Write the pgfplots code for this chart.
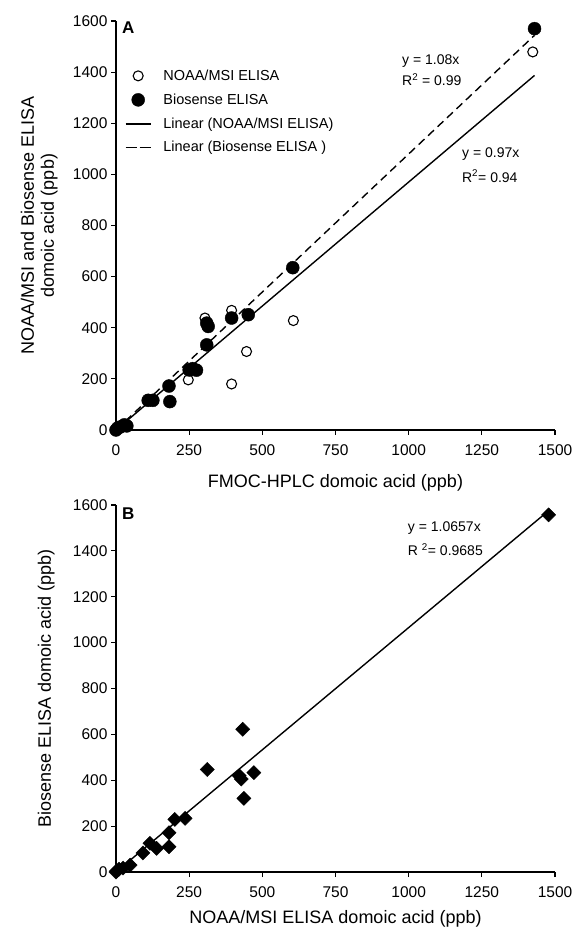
\documentclass[border=0pt]{standalone}
\usepackage{pgfplots}
\pgfplotsset{compat=1.18}
\usepackage{fontspec}
\setmainfont{Liberation Sans}
\pgfplotstableread{
x y
6 8
37 16
110 116
126 116
181 172
262 240
310 418
247 196
304 438
395 468
395 180
446 307
606 428
1424 1479
}\noaa
\pgfplotstableread{
x y
0 0
6 8
15 12
37 16
28 20
110 116
126 116
181 172
184 111
250 235
262 240
275 234
310 333
310 418
315 405
395 438
452 451
604 635
1430 1570
}\bios
\pgfplotstableread{
x y
0 0
2 5
10 12
24 17
48 30
92 83
116 125
139 103
181 171
181 110
201 229
236 234
312 447
421 420
428 405
433 622
437 321
471 433
1478 1557
}\pairs
\pgfplotsset{
  mystyle/.style={
    scale only axis, width=439pt,
    xmin=0,xmax=1500,ymin=0,ymax=1600,
    axis lines=left, axis line style={-, line width=1.3pt},
    tick align=outside, major tick length=5pt,
    every tick/.style={line width=1.1pt, black},
    xtick={0,250,...,1500}, ytick={0,200,...,1600},
    xticklabel style={yshift=-6pt},
    /pgf/number format/assume math mode=true,
    /pgf/number format/1000 sep={},
    tick label style={font=\fontsize{15.5}{17}\selectfont},
    label style={font=\fontsize{18}{20}\selectfont},
    clip=false,
    anchor=south west,
  }
}
\begin{document}
\begin{tikzpicture}
\path[use as bounding box] (0,0) rectangle (576pt,928pt);
% Panel A
\begin{axis}[mystyle, at={(116pt,498pt)}, height=409pt,
  xlabel={FMOC-HPLC domoic acid (ppb)},
  ylabel={NOAA/MSI and Biosense ELISA\\domoic acid (ppb)},
  xlabel style={at={(axis description cs:0.5,-0.130)}, anchor=center},
  ylabel style={at={(axis description cs:-0.175,0.5)}, anchor=center, align=center},
  legend style={draw=none, fill=none, at={(axis description cs:0.02,0.881)}, anchor=north west,
    font=\fontsize{14.5}{16}\selectfont, row sep=11.5pt, inner sep=0pt, nodes={inner sep=0pt}, cells={anchor=west},
    /tikz/every odd column/.append style={column sep=12pt}},
  legend image code/.code={\draw[mark repeat=2,mark phase=2,#1] plot coordinates {(0pt,0pt) (12.5pt,0pt) (25pt,0pt)};},
]
\addplot[only marks, mark=*, mark size=5pt, mark options={fill=white, draw=black, line width=1.1pt}] table[x=x,y=y] {\noaa};
\addlegendentry{NOAA/MSI ELISA}
\addplot[only marks, mark=*, mark size=6.5pt, black] table[x=x,y=y] {\bios};
\addlegendentry{Biosense ELISA}
\addplot[black, line width=1.4pt] coordinates {(0,0) (1430,1387)};
\addlegendentry{Linear\hspace{4pt}(NOAA/MSI ELISA)}
\addplot[black, line width=1.4pt, dash pattern=on 8pt off 5pt, legend image post style={dash pattern=on 11pt off 3pt}] coordinates {(0,0) (1430,1544)};
\addlegendentry{Linear\hspace{4pt}(Biosense ELISA )}
\node[anchor=west, inner sep=0pt, font=\fontsize{17}{20}\selectfont\bfseries] at (axis cs:20,1575) {A};
\node[anchor=west, inner sep=0pt, font=\fontsize{14}{16}\selectfont] at (axis cs:977,1443) {y = 1.08x};
\node[anchor=west, inner sep=0pt, font=\fontsize{14}{16}\selectfont] at (axis cs:977,1372) {R\textsuperscript{2} = 0.99};
\node[anchor=west, inner sep=0pt, font=\fontsize{14}{16}\selectfont] at (axis cs:1182,1080) {y = 0.97x};
\node[anchor=west, inner sep=0pt, font=\fontsize{14}{16}\selectfont] at (axis cs:1182,993) {R\textsuperscript{2}= 0.94};
\end{axis}
% Panel B
\begin{axis}[mystyle, at={(116pt,56pt)}, height=367pt,
  xlabel={NOAA/MSI ELISA domoic acid (ppb)},
  ylabel={Biosense ELISA domoic acid (ppb)},
  xlabel style={at={(axis description cs:0.5,-0.128)}, anchor=center},
  ylabel style={at={(axis description cs:-0.159,0.5)}, anchor=center},
]
\addplot[black, line width=1.4pt] coordinates {(0,0) (1478,1575)};
\addplot[only marks, mark=square*, mark size=5pt, mark options={rotate=45}, black] table[x=x,y=y] {\pairs};
\node[anchor=west, inner sep=0pt, font=\fontsize{17}{20}\selectfont\bfseries] at (axis cs:20,1564) {B};
\node[anchor=west, inner sep=0pt, font=\fontsize{14}{16}\selectfont] at (axis cs:997,1500) {y = 1.0657x};
\node[anchor=west, inner sep=0pt, font=\fontsize{14}{16}\selectfont] at (axis cs:997,1405) {R \textsuperscript{2}= 0.9685};
\end{axis}
\end{tikzpicture}
\end{document}
